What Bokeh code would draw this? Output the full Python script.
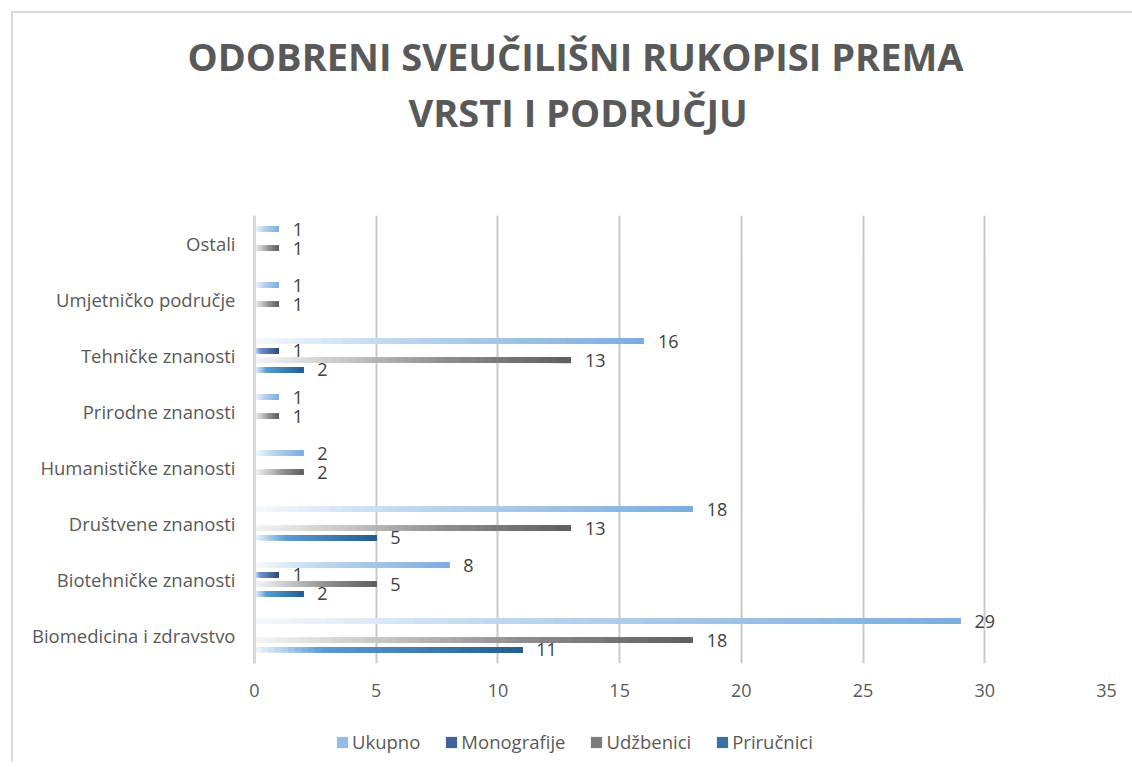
import numpy as np
from bokeh.plotting import figure
from bokeh.layouts import column
from bokeh.models import ColumnDataSource, Legend, LegendItem, FactorRange, Title
from bokeh.transform import dodge
from bokeh.core.properties import value
from bokeh.embed import file_html
from bokeh.resources import INLINE

# ---------------- data ----------------
categories = ["Biomedicina i zdravstvo", "Biotehničke znanosti", "Društvene znanosti",
              "Humanističke znanosti", "Prirodne znanosti", "Tehničke znanosti",
              "Umjetničko područje", "Ostali"]
series_names = ["Ukupno", "Monografije", "Udžbenici", "Priručnici"]
ukupno      = [29, 8, 18, 2, 1, 16, 1, 1]
monografije = [0, 1, 0, 0, 0, 1, 0, 0]
udzbenici   = [18, 5, 13, 2, 1, 13, 1, 1]
prirucnici  = [11, 2, 5, 0, 0, 2, 0, 0]
x_ticks = [0, 5, 10, 15, 20, 25, 30, 35]
title_lines = ["ODOBRENI SVEUČILIŠNI RUKOPISI PREMA", "VRSTI I PODRUČJU"]

# ---------------- styling ----------------
series_values = [ukupno, monografije, udzbenici, prirucnici]
offsets = [0.255, 0.085, -0.085, -0.255]
gradients = [
    [(0.0, "#f6f9fd"), (0.35, "#bdd7ee"), (1.0, "#7aaddf")],
    [(0.0, "#dbe5f5"), (0.25, "#6f8fc8"), (1.0, "#2c4a7c")],
    [(0.0, "#f5f5f5"), (0.3, "#c4c4c4"), (0.6, "#8e8e8e"), (1.0, "#5e5e5e")],
    [(0.0, "#f2f7fc"), (0.25, "#5b9bd5"), (1.0, "#255c8d")],
]
N_SEG = 40
FONT = "Open Sans"
TEXT_COLOR = "#595959"


def hex_rgb(h):
    h = h.lstrip("#")
    return np.array([int(h[i:i + 2], 16) for i in (0, 2, 4)], dtype=float)


def grad_color(stops, t):
    for (t0, c0), (t1, c1) in zip(stops[:-1], stops[1:]):
        if t <= t1:
            f = (t - t0) / (t1 - t0) if t1 > t0 else 0
            c = hex_rgb(c0) * (1 - f) + hex_rgb(c1) * f
            return "#%02x%02x%02x" % tuple(int(round(v)) for v in c)
    return stops[-1][1]


p = figure(y_range=FactorRange(factors=categories), x_range=(0, 35),
           width=1119, height=709,
           frame_width=852, frame_height=448,
           min_border_left=241, min_border_right=26, min_border_top=202, min_border_bottom=59,
           output_backend="svg", toolbar_location=None,
           background_fill_color="white", border_fill_color="white", outline_line_color=None)

for name, vals, off, stops in zip(series_names, series_values, offsets, gradients):
    cat_col, left_col, right_col, col_col = [], [], [], []
    for c, v in zip(categories, vals):
        if v <= 0:
            continue
        for i in range(N_SEG):
            t = (i + 0.5) / N_SEG
            cat_col.append(c)
            left_col.append(v * i / N_SEG)
            right_col.append(v)
            col_col.append(grad_color(stops, t))
    src = ColumnDataSource(dict(cat=cat_col, left=left_col, right=right_col, color=col_col))
    p.hbar(y=dodge("cat", off, range=p.y_range), left="left", right="right", height=0.1,
           fill_color="color", line_color=None, source=src)

    lab_src = ColumnDataSource(dict(cat=[c for c, v in zip(categories, vals) if v > 0],
                                    val=[v for v in vals if v > 0],
                                    txt=[str(v) for v in vals if v > 0]))
    p.text(x="val", y=dodge("cat", off, range=p.y_range), text="txt", source=lab_src,
           x_offset=14, text_align="left", text_baseline="middle",
           text_font=value(FONT), text_font_size="18px", text_color="#404040")

# axes
p.xaxis.ticker = x_ticks
p.xaxis.axis_line_color = None
p.xaxis.major_tick_line_color = None
p.xaxis.minor_tick_line_color = None
p.xaxis.major_label_text_font = FONT
p.xaxis.major_label_text_font_size = "18px"
p.xaxis.major_label_text_color = TEXT_COLOR
p.xaxis.major_label_standoff = 14

p.yaxis.axis_line_color = "#d9d9d9"
p.yaxis.axis_line_width = 3
p.yaxis.major_tick_line_color = None
p.yaxis.minor_tick_line_color = None
p.yaxis.major_label_text_font = FONT
p.yaxis.major_label_text_font_size = "18.5px"
p.yaxis.major_label_text_color = TEXT_COLOR
p.yaxis.major_label_standoff = 13

p.xgrid.grid_line_color = "#c8c8c8"
p.xgrid.grid_line_width = 2
p.ygrid.grid_line_color = None

# title (spacer, line 2, line 1 stacked outward from the frame)
p.add_layout(Title(text=" ", text_font_size="1px", standoff=73), "above")
p.add_layout(Title(text=title_lines[1], align="left", offset=154, standoff=4,
                   text_font=FONT, text_font_style="bold", text_font_size="38px",
                   text_color=TEXT_COLOR), "above")
p.add_layout(Title(text=title_lines[0], align="left", offset=-67, standoff=0,
                   text_font=FONT, text_font_style="bold", text_font_size="38px",
                   text_color=TEXT_COLOR), "above")

# legend strip (separate small figure directly below the chart)
lg = figure(width=1119, height=40, x_range=(0, 1), y_range=(0, 1),
            x_axis_type=None, y_axis_type=None,
            min_border_left=0, min_border_right=0, min_border_top=0, min_border_bottom=0,
            output_backend="svg", toolbar_location=None,
            background_fill_color="white", border_fill_color="white", outline_line_color=None)
lg.xgrid.grid_line_color = None
lg.ygrid.grid_line_color = None
legend_items = []
for name, stops in zip(series_names, gradients):
    # zero-width key bar: only its colour is used by the legend
    r = lg.hbar(y=[0.5], left=[0], right=[0], height=0.5,
                fill_color=grad_color(stops, 0.75), line_color=None)
    legend_items.append(LegendItem(label=name, renderers=[r]))
legend = Legend(items=legend_items, location=(81, 8), orientation="horizontal",
                glyph_width=14, glyph_height=14, label_standoff=3, spacing=24,
                label_text_font=FONT, label_text_font_size="18.5px", label_text_color=TEXT_COLOR,
                label_height=18, padding=0, margin=0,
                background_fill_alpha=0, border_line_color=None)
lg.add_layout(legend, "center")

layout = column(p, lg, spacing=0)
layout.styles = {"margin-left": "11px", "margin-top": "11px",
                 "border-top": "2px solid #d9d9d9", "border-left": "2px solid #d9d9d9"}

open("out.html", "w").write(file_html(layout, INLINE))
